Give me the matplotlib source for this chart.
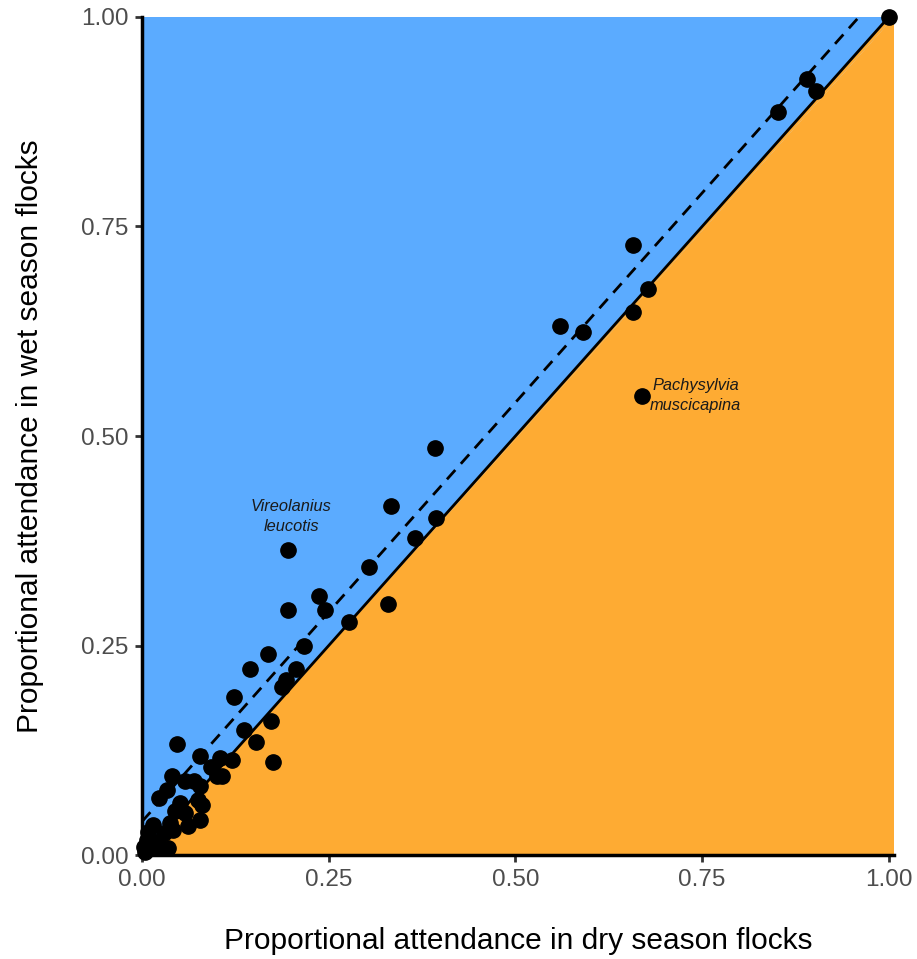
import matplotlib.pyplot as plt

plt.rcParams['font.family'] = ['Liberation Sans', 'DejaVu Sans']

# proportional attendance per species: dry season (x) vs wet season (y)
dry = [1.000, 0.890, 0.903, 0.852, 0.658, 0.678, 0.658, 0.560, 0.591, 0.670,
       0.392, 0.334, 0.393, 0.366, 0.196, 0.304, 0.237, 0.196, 0.245, 0.277,
       0.330, 0.217, 0.169, 0.145, 0.206, 0.193, 0.187, 0.123, 0.047, 0.136,
       0.173, 0.153, 0.176, 0.077, 0.104, 0.121, 0.092, 0.101, 0.107, 0.040,
       0.058, 0.069, 0.078, 0.033, 0.023, 0.075, 0.080, 0.051, 0.044, 0.078,
       0.058, 0.061, 0.037, 0.015, 0.042, 0.008, 0.029, 0.006, 0.020, 0.035,
       0.002, 0.004, 0.022]
wet = [1.000, 0.926, 0.912, 0.887, 0.728, 0.676, 0.648, 0.631, 0.624, 0.548,
       0.486, 0.416, 0.402, 0.378, 0.364, 0.344, 0.309, 0.292, 0.292, 0.278,
       0.299, 0.250, 0.240, 0.222, 0.222, 0.209, 0.201, 0.189, 0.133, 0.149,
       0.160, 0.135, 0.111, 0.118, 0.116, 0.114, 0.105, 0.094, 0.094, 0.094,
       0.088, 0.088, 0.082, 0.078, 0.068, 0.066, 0.060, 0.062, 0.052, 0.042,
       0.050, 0.035, 0.038, 0.036, 0.030, 0.028, 0.026, 0.018, 0.016, 0.008,
       0.010, 0.004, 0.010]

labels = ['Vireolanius\nleucotis', 'Pachysylvia\nmuscicapina']
label_pos = [(0.200, 0.404), (0.741, 0.548)]

fit_intercept = 0.04
fit_slope = 1.0
ticks = [0.0, 0.25, 0.5, 0.75, 1.0]
tick_labels = ['0.00', '0.25', '0.50', '0.75', '1.00']

fig = plt.figure(figsize=(9.17, 9.59), dpi=100)
ax = fig.add_axes([0.1549, 0.1084, 0.8201, 0.8739])
xmax = 1.007
ax.set_xlim(0, xmax)
ax.set_ylim(0, 1.0)

# shaded halves above / below the 1:1 line
ax.fill([0, 0, xmax, xmax], [0, 1, 1, 1], color='#5BABFF', lw=0, zorder=0)
ax.fill([0, xmax, xmax], [0, 0, 1], color='#FEAB33', lw=0, zorder=0)
ax.fill([0, 1, xmax], [0, 1, 1], color='#FEAB33', lw=0, zorder=0)

ax.plot([0, 1], [0, 1], color='black', lw=2, zorder=2)
xs = [0, (1 - fit_intercept) / fit_slope]
ax.plot(xs, [fit_intercept + fit_slope * v for v in xs], color='black', lw=2,
        ls=(0, (4.5, 3)), zorder=2)

ax.plot(dry, wet, 'o', color='black', ms=11, zorder=3, clip_on=False)

for txt, (tx, ty) in zip(labels, label_pos):
    ax.text(tx, ty, txt, ha='center', va='center', style='italic',
            fontsize=11.8, linespacing=1.4, color='#1a1a1a')

for s in ['top', 'right']:
    ax.spines[s].set_visible(False)
for s in ['left', 'bottom']:
    ax.spines[s].set_linewidth(2.5)
    ax.spines[s].set_color('black')

ax.set_xticks(ticks)
ax.set_xticklabels(tick_labels)
ax.set_yticks(ticks)
ax.set_yticklabels(tick_labels)
ax.tick_params(labelsize=17.5, labelcolor='#4D4D4D', color='#333333',
               width=2, length=5, pad=5)

ax.set_xlabel('Proportional attendance in dry season flocks', fontsize=21.5,
              labelpad=26)
ax.set_ylabel('Proportional attendance in wet season flocks', fontsize=21.5,
              labelpad=26)

fig.savefig('out.png', dpi=100)
